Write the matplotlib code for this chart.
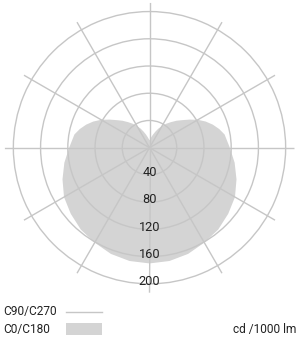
import numpy as np
import matplotlib
matplotlib.use("Agg")
import matplotlib.pyplot as plt
from matplotlib.lines import Line2D
from matplotlib.patches import Rectangle

plt.rcParams['font.family'] = ['Roboto', 'DejaVu Sans']

# angles from nadir (degrees) and intensities (cd/1000 lm)
angles = [0, 10, 20, 30, 40, 50, 60, 70, 80, 90, 100, 105, 110, 115, 120,
          125, 130, 135, 140, 145, 150, 155, 160, 165, 170, 175, 180]
c0 = [170, 169, 166, 161, 157, 151, 145, 136, 127, 118, 112, 106, 99, 91, 82,
      72, 63, 56, 49, 43, 37, 31, 25, 20, 16, 13, 11]
c180 = [170, 169, 166, 161, 157, 151, 145, 136, 127, 118, 112, 106, 99, 91, 82,
        72, 63, 56, 49, 43, 37, 31, 25, 20, 16, 13, 11]
ring_values = [40, 80, 120, 160, 200]
ring_labels = ["40", "80", "120", "160", "200"]
r_max = 213

W, H = 297, 338
fig = plt.figure(figsize=(W / 100, H / 100), dpi=100)
cx, cy, R = 149.5, 147.7, 145.0
ax = fig.add_axes([(cx - R) / W, (H - cy - R) / H, 2 * R / W, 2 * R / H],
                  projection='polar')
ax.set_theta_zero_location('S')
ax.set_ylim(0, r_max)
ax.spines['polar'].set_visible(False)
ax.set_facecolor('none')

grid_col = '#c6c6c6'
ax.set_rgrids(ring_values, labels=[''] * len(ring_values))
ax.set_thetagrids(np.arange(0, 360, 30), labels=[''] * 12)
ax.grid(True, color=grid_col, linewidth=1.0)
ax.tick_params(length=0)

a = np.deg2rad(np.array(angles, dtype=float))
theta = np.concatenate([a, 2 * np.pi - a[::-1]])
rr = np.concatenate([np.array(c0, float), np.array(c180, float)[::-1]])
ax.fill(theta, rr, color='#d4d4d4', zorder=0.5, linewidth=0)
ax.set_axisbelow(False)

for v, lab in zip(ring_values, ring_labels):
    ax.text(0, v - 3.2, lab, ha='center', va='center', fontsize=9.2,
            color='#222222', zorder=5)

# legend
fig.add_artist(Line2D([66 / W, 102 / W], [1 - 312 / H, 1 - 312 / H],
                      color='#c6c6c6', linewidth=1.0))
fig.add_artist(Rectangle((66 / W, 1 - 335 / H), 36 / W, 12 / H,
                         facecolor='#d4d4d4', edgecolor='none'))
fig.text(3 / W, 1 - 312 / H, "C90/C270", ha='left', va='center',
         fontsize=8.6, color='#222222')
fig.text(3 / W, 1 - 329.5 / H, "C0/C180", ha='left', va='center',
         fontsize=8.6, color='#222222')
fig.text(296 / W, 1 - 329.5 / H, "cd /1000 lm", ha='right', va='center',
         fontsize=8.6, color='#222222')

fig.savefig('out.png', dpi=100)
